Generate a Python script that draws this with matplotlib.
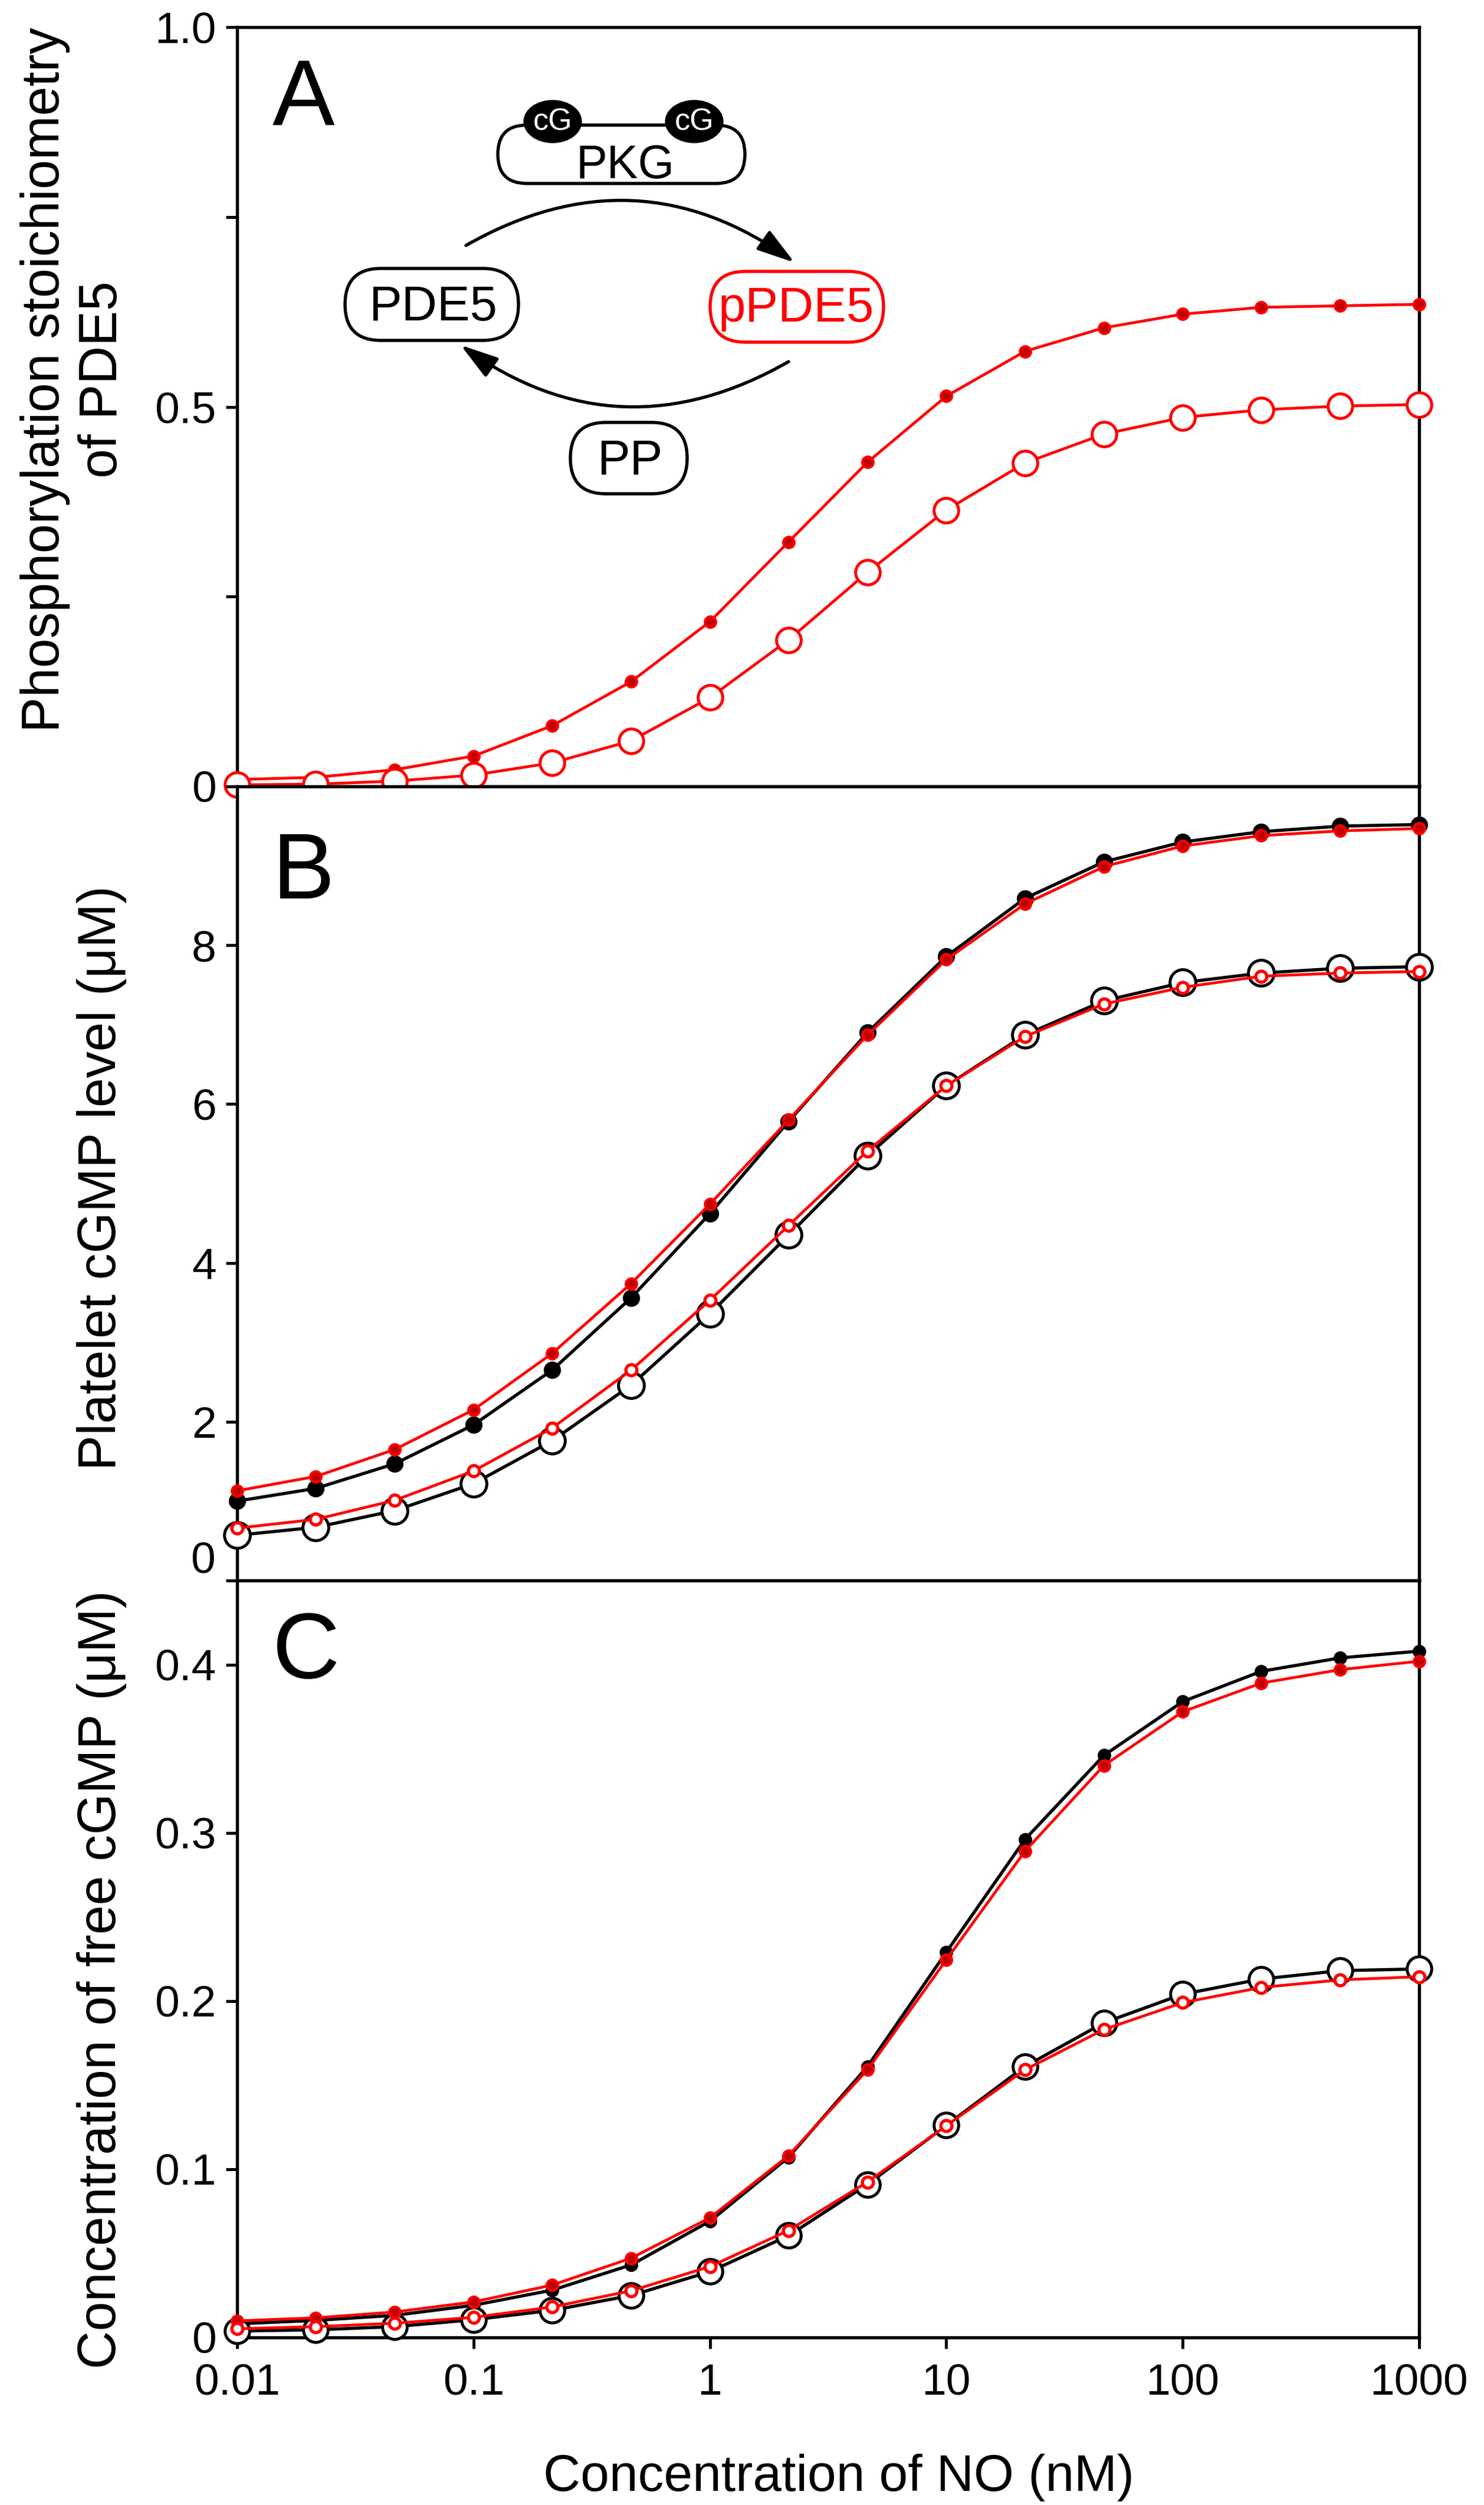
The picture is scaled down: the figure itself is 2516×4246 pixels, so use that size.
import matplotlib
matplotlib.use("Agg")
import matplotlib.pyplot as plt
from matplotlib.patches import FancyBboxPatch, Ellipse, FancyArrowPatch

plt.rcParams['font.family'] = ['Liberation Sans', 'DejaVu Sans']

# NO concentration (nM), 3 points per decade
no_nM = [0.01, 0.0215, 0.0464, 0.1, 0.215, 0.464, 1, 2.15, 4.64, 10, 21.5, 46.4, 100, 215, 464, 1000]

# A: phosphorylation stoichiometry of PDE5
a_filled = [0.009, 0.012, 0.022, 0.040, 0.080, 0.138, 0.217, 0.322, 0.427, 0.514, 0.573, 0.604, 0.622, 0.631, 0.633, 0.635]
a_open = [0.002, 0.003, 0.007, 0.015, 0.031, 0.060, 0.117, 0.193, 0.282, 0.364, 0.426, 0.464, 0.486, 0.496, 0.501, 0.503]

# B: platelet cGMP level (uM)
b_black_filled = [1.00, 1.16, 1.47, 1.96, 2.65, 3.56, 4.62, 5.78, 6.90, 7.86, 8.59, 9.05, 9.30, 9.43, 9.50, 9.52]
b_red_filled = [1.13, 1.31, 1.65, 2.15, 2.86, 3.74, 4.74, 5.80, 6.87, 7.82, 8.52, 8.99, 9.25, 9.38, 9.44, 9.47]
b_black_open = [0.57, 0.67, 0.88, 1.22, 1.76, 2.46, 3.36, 4.35, 5.35, 6.23, 6.87, 7.30, 7.53, 7.65, 7.71, 7.73]
b_red_open = [0.66, 0.77, 1.01, 1.38, 1.92, 2.65, 3.53, 4.47, 5.41, 6.23, 6.85, 7.26, 7.47, 7.61, 7.65, 7.67]

# C: free cGMP (uM)
c_black_filled = [0.008, 0.010, 0.013, 0.019, 0.028, 0.043, 0.069, 0.107, 0.161, 0.229, 0.296, 0.346, 0.378, 0.396, 0.404, 0.408]
c_red_filled = [0.0097, 0.0115, 0.015, 0.021, 0.031, 0.047, 0.071, 0.108, 0.159, 0.2245, 0.289, 0.340, 0.372, 0.389, 0.397, 0.402]
c_black_open = [0.0037, 0.0044, 0.0063, 0.0104, 0.016, 0.0248, 0.039, 0.0604, 0.0909, 0.126, 0.161, 0.187, 0.204, 0.213, 0.218, 0.219]
c_red_open = [0.005, 0.0063, 0.0083, 0.0118, 0.018, 0.0276, 0.042, 0.0635, 0.0923, 0.1258, 0.159, 0.183, 0.199, 0.208, 0.2125, 0.2144]

x_ticks = [0.01, 0.1, 1, 10, 100, 1000]
x_ticklabels = ['0.01', '0.1', '1', '10', '100', '1000']

RED = '#ff0000'
DARKRED = '#c00000'
W, H = 2516, 4246
DPI = 300

fig = plt.figure(figsize=(W / DPI, H / DPI), dpi=DPI)

left = 402 / W
width = (2406 - 402) / W
axA = fig.add_axes([left, 1 - 1333 / H, width, 1287 / H])
axB = fig.add_axes([left, 1 - 2679 / H, width, 1346 / H])
axC = fig.add_axes([left, 1 - 3961.6 / H, width, 1282.6 / H])

for ax in (axA, axB, axC):
    ax.set_xscale('log')
    ax.set_xlim(0.01, 1000)
    ax.set_xticks(x_ticks)
    ax.minorticks_off()
    ax.tick_params(direction='out', length=4.5, width=1.2, pad=4, labelsize=18)
    for s in ax.spines.values():
        s.set_linewidth(1.3)

axA.set_xticklabels([])
axB.set_xticklabels([])
axC.set_xticklabels(x_ticklabels)
axC.tick_params(axis='x', pad=6)

lw = 1.15
# panel A
axA.plot(no_nM, a_filled, '-o', color=RED, lw=lw, ms=4.5, mfc=DARKRED, mec=RED, mew=1.0, clip_on=False, zorder=3)
axA.plot(no_nM, a_open, '-o', color=RED, lw=lw, ms=10, mfc='white', mec=RED, mew=1.2, clip_on=False, zorder=3)
axA.set_ylim(0, 1)
axA.set_yticks([0, 0.25, 0.5, 0.75, 1.0])
axA.set_yticklabels(['0', '', '0.5', '', '1.0'])

# panel B
axB.plot(no_nM, b_black_filled, '-o', color='black', lw=1.3, ms=6, mfc='black', mec='black', clip_on=False, zorder=3)
axB.plot(no_nM, b_black_open, '-o', color='black', lw=1.3, ms=10.5, mfc='white', mec='black', mew=1.2, clip_on=False, zorder=3)
axB.plot(no_nM, b_red_filled, '-o', color=RED, lw=lw, ms=4.5, mfc=DARKRED, mec=RED, mew=1.0, clip_on=False, zorder=4)
axB.plot(no_nM, b_red_open, '-o', color=RED, lw=lw, ms=4.5, mfc='white', mec=RED, mew=1.3, clip_on=False, zorder=4)
axB.set_ylim(0, 10)
axB.set_yticks([0, 2, 4, 6, 8, 10])
axB.set_yticklabels(['', '2', '4', '6', '8', ''])
axB.text(-0.0185, 0.24, '0', transform=axB.get_yaxis_transform(), ha='right', va='center', fontsize=18)

# panel C
axC.plot(no_nM, c_black_filled, '-o', color='black', lw=1.3, ms=4.5, mfc='black', mec='black', clip_on=False, zorder=3)
axC.plot(no_nM, c_black_open, '-o', color='black', lw=1.3, ms=10, mfc='white', mec='black', mew=1.2, clip_on=False, zorder=3)
axC.plot(no_nM, c_red_filled, '-o', color=RED, lw=lw, ms=4.5, mfc=DARKRED, mec=RED, mew=1.0, clip_on=False, zorder=4)
axC.plot(no_nM, c_red_open, '-o', color=RED, lw=lw, ms=4.5, mfc='white', mec=RED, mew=1.3, clip_on=False, zorder=4)
axC.set_ylim(0, 0.45)
axC.set_yticks([0, 0.1, 0.2, 0.3, 0.4])
axC.set_yticklabels(['0', '0.1', '0.2', '0.3', '0.4'])

# axis labels
axA.text(-0.138, 0.536, 'Phosphorylation stoichiometry\nof PDE5', transform=axA.transAxes,
         rotation=90, ha='center', va='center', multialignment='center', fontsize=21.5, linespacing=1.2)
axB.text(-0.1143, 0.507, 'Platelet cGMP level (\u03bcM)', transform=axB.transAxes,
         rotation=90, ha='center', va='center', fontsize=21.5)
axC.text(-0.1143, 0.473, 'Concentration of free cGMP (\u03bcM)', transform=axC.transAxes,
         rotation=90, ha='center', va='center', fontsize=21.5)
fig.text(1422 / W, 1 - 4222 / H, 'Concentration of NO (nM)', ha='center', va='baseline', fontsize=21)

# overlay in pixel coordinates for panel letters and the scheme
ov = fig.add_axes([0, 0, 1, 1], zorder=10)
ov.set_xlim(0, W)
ov.set_ylim(H, 0)
ov.axis('off')
ov.patch.set_alpha(0)

for letter, base in (('A', 212), ('B', 1523), ('C', 2844)):
    ov.text(462, base, letter, ha='left', va='baseline', fontsize=38)


def stadium(x0, y0, x1, y1, color):
    h = y1 - y0
    p = FancyBboxPatch((x0, y0), x1 - x0, h, boxstyle='round,pad=0,rounding_size=%f' % (h / 2),
                       fc='white', ec=color, lw=1.3)
    ov.add_patch(p)


# PKG with two bound cGMP
stadium(844, 212, 1263, 311, 'black')
for cx in (937, 1177):
    ov.add_patch(Ellipse((cx, 206), 95, 69, fc='black', ec='black'))
    ov.text(cx, 207, 'cG', color='white', ha='center', va='center', fontsize=12.5)
ov.text(1060, 302, 'PKG', ha='center', va='baseline', fontsize=19)

stadium(585, 455, 879, 577, 'black')
ov.text(734, 543, 'PDE5', ha='center', va='baseline', fontsize=20)
stadium(1204, 460, 1498, 580, RED)
ov.text(1350, 545, 'pPDE5', ha='center', va='baseline', fontsize=20, color=RED)
stadium(967, 716, 1165, 837, 'black')
ov.text(1068, 804, 'PP', ha='center', va='baseline', fontsize=20)

for start, end in (((790, 416), (1347, 445)), ((1337, 613), (781, 585))):
    ov.add_patch(FancyArrowPatch(start, end, connectionstyle='arc3,rad=-0.32',
                                 arrowstyle='-|>,head_length=0.41,head_width=0.125',
                                 mutation_scale=32, lw=1.3, color='black',
                                 shrinkA=0, shrinkB=0))

fig.savefig('out.png', dpi=DPI)
